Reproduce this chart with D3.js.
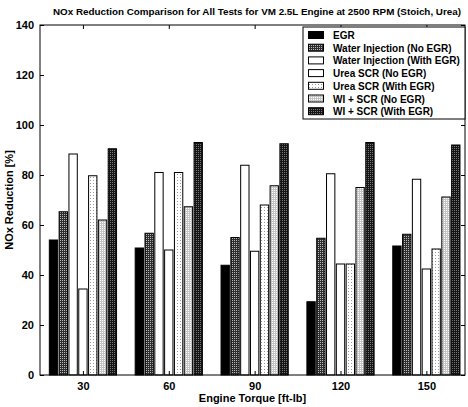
<!DOCTYPE html>
<html>
<head>
<meta charset="utf-8">
<script src="https://cdn.jsdelivr.net/npm/d3@7"></script>
<style>
  body { margin: 0; background: #fff; }
  svg text { font-family: "Liberation Sans", Arial, sans-serif; font-weight: bold; }
</style>
</head>
<body>
<div id="chart"></div>
<script>
// torque points (x categories)
const torques = ['30', '60', '90', '120', '150'];
const seriesNames = ['EGR', 'Water Injection (No EGR)', 'Water Injection (With EGR)',
  'Urea SCR (No EGR)', 'Urea SCR (With EGR)', 'WI + SCR (No EGR)', 'WI + SCR (With EGR)'];

// NOx reduction [%] per series, one value per torque
const egr = [54, 50.8, 43.9, 29.3, 51.6];
const wiNoEgr = [65.3, 56.7, 55, 54.7, 56.3];
const wiEgr = [88.4, 81, 83.9, 80.5, 78.3];
const scrNoEgr = [34.4, 50, 49.5, 44.4, 42.4];
const scrEgr = [79.7, 81, 68, 44.4, 50.4];
const wiScrNoEgr = [62, 67.3, 75.7, 75, 71.2];
const wiScrEgr = [90.5, 93, 92.5, 93, 92];

const yTicks = [0, 20, 40, 60, 80, 100, 120, 140];

const width = 468, height = 407;
const margin = {top: 25, right: 3, bottom: 32, left: 40};

const allSeries = [egr, wiNoEgr, wiEgr, scrNoEgr, scrEgr, wiScrNoEgr, wiScrEgr];
const fills = ['#000', 'url(#p1)', '#fff', '#fff', 'url(#p4)', 'url(#p5)', 'url(#p6)'];

const svg = d3.select('#chart').append('svg')
  .attr('width', width).attr('height', height);

// dot textures like the scanned matlab bars
const defs = svg.append('defs');
const pat = (id, bg, dot, size) => {
  const p = defs.append('pattern').attr('id', id)
    .attr('width', size).attr('height', size).attr('patternUnits', 'userSpaceOnUse');
  p.append('rect').attr('width', size).attr('height', size).attr('fill', bg);
  p.append('rect').attr('width', 1).attr('height', 1).attr('fill', dot);
};
pat('p1', '#2e2e2e', '#bbb', 2);
pat('p4', '#fff', '#999', 3);
pat('p5', '#c4c4c4', '#fff', 2);
pat('p6', '#151515', '#777', 2);

const x = d3.scaleLinear()
  .domain([0.5, 5.45])
  .range([margin.left, width - margin.right]);

const y = d3.scaleLinear()
  .domain([0, 140])
  .range([height - margin.bottom, margin.top]);

const step = x(2) - x(1);
const groupW = step * 0.8;
const slot = groupW / allSeries.length;
const barW = slot * 0.85;

// bars
allSeries.forEach((vals, s) => {
  svg.append('g')
    .selectAll('rect')
    .data(vals)
    .join('rect')
    .attr('x', (d, i) => x(i + 1) - groupW / 2 + s * slot + (slot - barW) / 2)
    .attr('y', d => y(d))
    .attr('width', barW)
    .attr('height', d => y(0) - y(d))
    .attr('fill', fills[s])
    .attr('stroke', '#000')
    .attr('stroke-width', 1);
});

// axes (matlab style: ticks inward, full box)
const x0 = margin.left, x1 = width - margin.right;
const yb = y(0), yt = y(140);

svg.append('g')
  .attr('transform', `translate(0,${yb})`)
  .call(d3.axisBottom(x).tickValues([1, 2, 3, 4, 5])
    .tickFormat((d, i) => torques[i]).tickSize(-4).tickPadding(7).tickSizeOuter(0))
  .call(g => g.select('.domain').remove())
  .call(g => g.selectAll('text').attr('font-size', 11).attr('fill', '#000'));

svg.append('g')
  .attr('transform', `translate(0,${yt})`)
  .call(d3.axisTop(x).tickValues([1, 2, 3, 4, 5]).tickFormat('').tickSize(-4).tickSizeOuter(0))
  .call(g => g.select('.domain').remove());

svg.append('g')
  .attr('transform', `translate(${x0},0)`)
  .call(d3.axisLeft(y).tickValues(yTicks).tickSize(-4).tickPadding(6).tickSizeOuter(0))
  .call(g => g.select('.domain').remove())
  .call(g => g.selectAll('text').attr('font-size', 11).attr('fill', '#000'));

svg.append('g')
  .attr('transform', `translate(${x1},0)`)
  .call(d3.axisRight(y).tickValues(yTicks).tickFormat('').tickSize(-4).tickSizeOuter(0))
  .call(g => g.select('.domain').remove());

svg.append('rect')
  .attr('x', x0).attr('y', yt)
  .attr('width', x1 - x0).attr('height', yb - yt)
  .attr('fill', 'none').attr('stroke', '#000').attr('stroke-width', 1);

// title and labels
svg.append('text')
  .attr('x', 257).attr('y', 15)
  .attr('text-anchor', 'middle').attr('font-size', 9.5)
  .attr('textLength', 408).attr('lengthAdjust', 'spacingAndGlyphs')
  .text('NOx Reduction Comparison for All Tests for VM 2.5L Engine at 2500 RPM (Stoich, Urea)');

svg.append('text')
  .attr('x', (x0 + x1) / 2).attr('y', 402)
  .attr('text-anchor', 'middle').attr('font-size', 11)
  .text('Engine Torque [ft-lb]');

svg.append('text')
  .attr('transform', `translate(13,${(yb + yt) / 2}) rotate(-90)`)
  .attr('text-anchor', 'middle').attr('font-size', 11)
  .text('NOx Reduction [%]');

// legend
const lg = svg.append('g').attr('transform', 'translate(303,27)');
lg.append('rect')
  .attr('width', 162).attr('height', 92)
  .attr('fill', '#fff').attr('stroke', '#000');
seriesNames.forEach((name, i) => {
  const cy = 8 + i * 12.7;
  lg.append('rect')
    .attr('x', 5.5).attr('y', cy - 3.5)
    .attr('width', 15).attr('height', 7)
    .attr('fill', fills[i]).attr('stroke', '#000');
  lg.append('text')
    .attr('x', 30).attr('y', cy + 4)
    .attr('font-size', 10)
    .text(name);
});
</script>
</body>
</html>
